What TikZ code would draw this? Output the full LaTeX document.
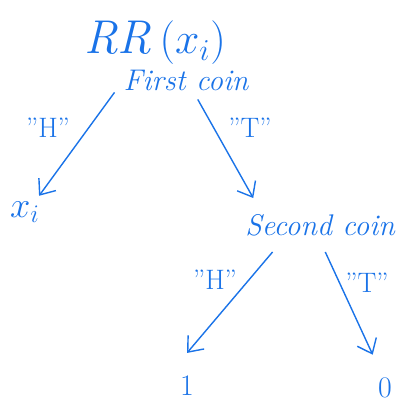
\documentclass[tikz,border=0pt]{standalone}
\usepackage{xcolor}
\usepackage{tikz}
\usetikzlibrary{arrows.meta,positioning}
\definecolor{inkc}{HTML}{1A73E8}
\tikzset{
  ar/.style={-{Straight Barb[length=2.6mm,width=4.2mm]},thick,inkc},
  txt/.style={inkc,inner sep=1pt,font=\fontsize{17}{19}\selectfont\itshape},
  lbl/.style={inkc,inner sep=1pt,font=\fontsize{16}{18}\selectfont}
}

\begin{document}
\begin{tikzpicture}[x=0.02cm,y=-0.02cm]
\useasboundingbox (0,0) rectangle (403,405);
\node[inkc,font=\fontsize{27}{30}\selectfont\itshape] (rr) at (155,43) {RR\,$(x_i)$};
\node[txt] (fc) at (186,80) {First coin};
\node[txt,font=\fontsize{22}{24}\selectfont] (xi) at (25,212) {$x_i$};
\node[txt] (sc) at (320,225) {Second coin};
\node[txt,font=\fontsize{17}{19}\selectfont] (one) at (187,386) {1};
\node[txt,font=\fontsize{17}{19}\selectfont] (zero) at (385,388) {0};
\draw[ar] ([xshift=-4pt]fc.south west) -- ([shift={(8pt,2pt)}]xi.north);
\draw[ar] ([xshift=-30pt,yshift=-4pt]fc.south east) -- ([shift={(-38pt,8pt)}]sc.north);
\draw[ar] ([shift={(-27pt,-8pt)}]sc.south) -- ([yshift=12pt]one.north);
\draw[ar] ([shift={(3pt,-8pt)}]sc.south) -- ([shift={(-7pt,12pt)}]zero.north);
\node[lbl] (h1) at (48,128) {"H"};
\node[lbl] (t1) at (250,128) {"T"};
\node[lbl] (h2) at (215,280) {"H"};
\node[lbl] (t2) at (367,283) {"T"};
\end{tikzpicture}
\end{document}
